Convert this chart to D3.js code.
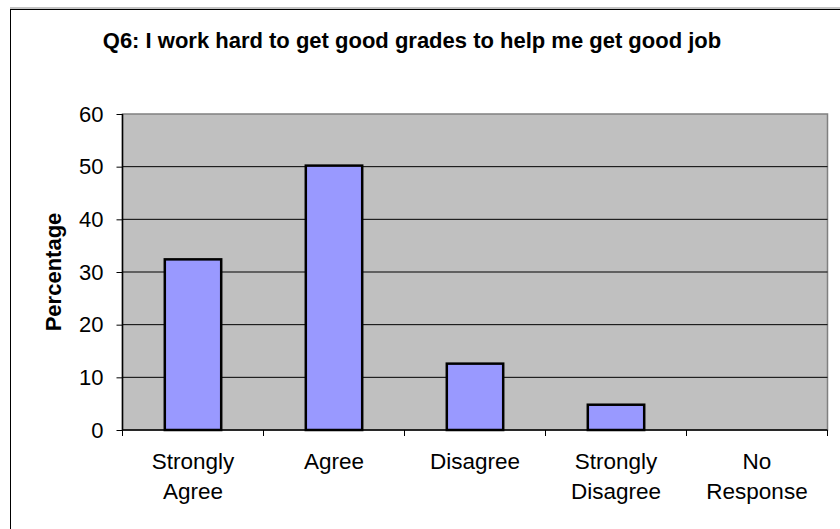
<!DOCTYPE html>
<html><head><meta charset="utf-8">
<script src="https://cdn.jsdelivr.net/npm/d3@7"></script>
<style>body{margin:0;background:#fff;}svg{display:block;font-family:"Liberation Sans",Arial,sans-serif;}</style>
</head><body>
<script>
const categories = [["Strongly","Agree"],["Agree"],["Disagree"],["Strongly","Disagree"],["No","Response"]];
const values = [32.4, 50.2, 12.6, 4.8, 0];
const yTicks = [0,10,20,30,40,50,60];
const title = "Q6: I work hard to get good grades to help me get good job";
const yTitle = "Percentage";

const W=840,H=529;
const svg=d3.select("body").append("svg").attr("width",W).attr("height",H);
svg.append("rect").attr("x",0).attr("y",0).attr("width",W).attr("height",H).attr("fill","#fff");
svg.append("line").attr("x1",10).attr("x2",W).attr("y1",8).attr("y2",8).attr("stroke","#b0b0b0").attr("stroke-width",1.5);
svg.append("rect").attr("x",10.5).attr("y",9.5).attr("width",W).attr("height",H).attr("fill","none").attr("stroke","#000").attr("stroke-width",1);

const L=122.5,R=827.5,T=114,B=430;
const keys=categories.map((c,i)=>i);
const x=d3.scaleBand().domain(keys).range([L,R]).paddingInner(0.6).paddingOuter(0.3);
const xb=d3.scaleBand().domain(keys).range([L,R]);
const y=d3.scaleLinear().domain([0,60]).range([B,T]);

svg.append("rect").attr("x",L).attr("y",T).attr("width",R-L).attr("height",B-T).attr("fill","#c0c0c0").attr("stroke","#808080").attr("stroke-width",1.5);

svg.append("g").selectAll("line").data(yTicks.filter(d=>d>0&&d<60)).join("line")
 .attr("x1",L).attr("x2",R).attr("y1",d=>y(d)).attr("y2",d=>y(d)).attr("stroke","#000").attr("stroke-width",1);

svg.append("g").selectAll("rect").data(values).join("rect")
 .attr("x",(d,i)=>x(i)).attr("width",x.bandwidth())
 .attr("y",d=>y(d)).attr("height",d=>B-y(d))
 .attr("fill","#9999ff").attr("stroke","#000").attr("stroke-width",d=>d>0?2.5:0);

// y axis
const ya=svg.append("g").attr("transform",`translate(${L},0)`)
 .call(d3.axisLeft(y).tickValues(yTicks).tickSize(6).tickPadding(13).tickFormat(d3.format("d")));
ya.select(".domain").attr("stroke","#000").attr("stroke-width",1.5).attr("d",`M0,${T}V${B}`);
ya.selectAll(".tick line").attr("stroke","#000");
ya.selectAll(".tick text").attr("font-size",22).attr("font-family","Liberation Sans, Arial, sans-serif").attr("fill","#000");

// x axis
svg.append("line").attr("x1",L).attr("x2",R).attr("y1",B).attr("y2",B).attr("stroke","#000").attr("stroke-width",1.5);
svg.append("g").selectAll("line").data(d3.range(categories.length+1)).join("line")
 .attr("x1",i=>L+i*xb.step()).attr("x2",i=>L+i*xb.step()).attr("y1",B).attr("y2",B+6).attr("stroke","#000");
const xl=svg.append("g").selectAll("text").data(categories).join("text")
 .attr("x",(d,i)=>xb(i)+xb.bandwidth()/2).attr("y",469).attr("text-anchor","middle").attr("font-size",22.5).attr("fill","#000");
xl.each(function(d){const t=d3.select(this);d.forEach((s,j)=>t.append("tspan").attr("x",t.attr("x")).attr("dy",j?30:0).text(s));});

svg.append("text").attr("x",412).attr("y",47.5).attr("text-anchor","middle").attr("font-size",22).attr("font-weight","bold").text(title);
svg.append("text").attr("transform",`translate(61,${(T+B)/2}) rotate(-90)`).attr("text-anchor","middle").attr("font-size",22).attr("font-weight","bold").text(yTitle);
</script>
</body></html>
